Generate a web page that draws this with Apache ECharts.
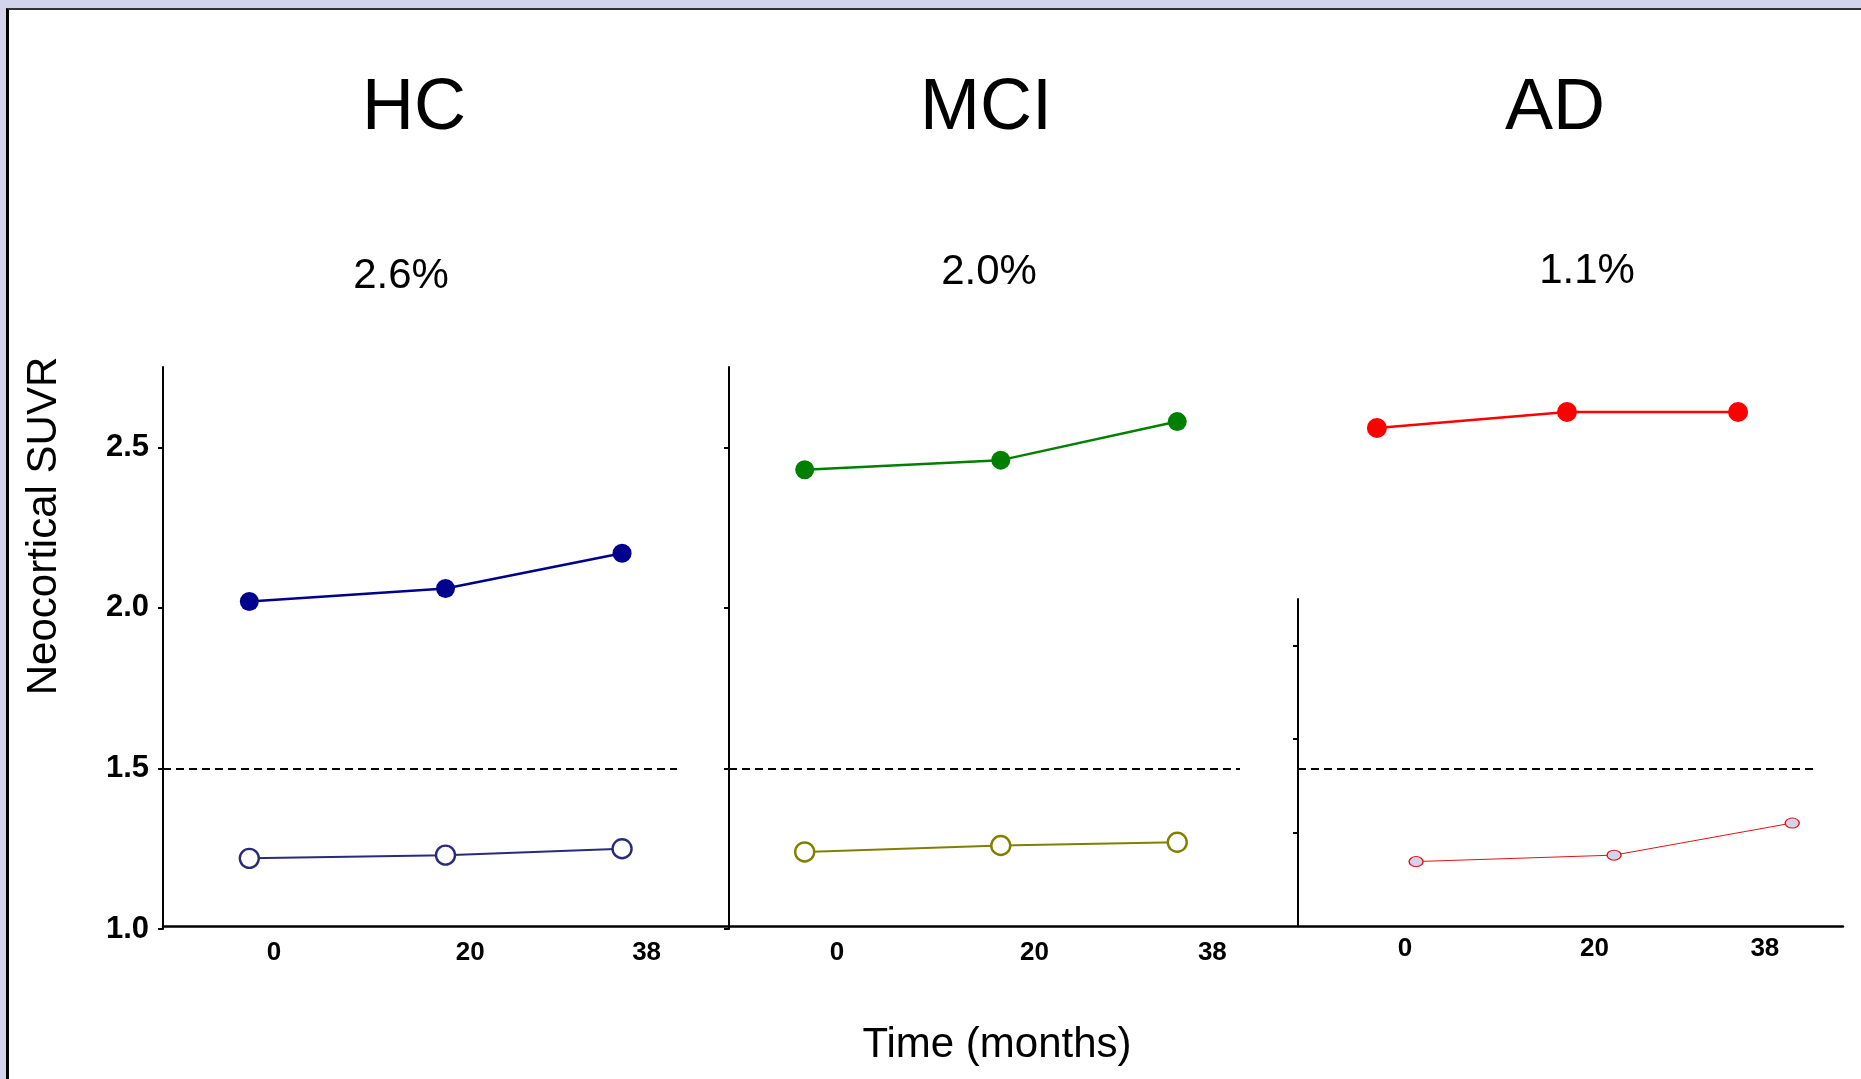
<!DOCTYPE html>
<html>
<head>
<meta charset="utf-8">
<title>Neocortical SUVR</title>
<script src="https://cdn.jsdelivr.net/npm/echarts@6/dist/echarts.min.js"></script>
<style>
  html, body { margin: 0; padding: 0; background: #d3d3eb; }
  #frame {
    position: absolute; left: 6px; top: 8px; right: -10px; bottom: -10px;
    background: #fff; border-left: 3px solid #000; border-top: 2px solid #333;
  }
  #chart { position: absolute; left: 0; top: 0; width: 1861px; height: 1079px; }
</style>
</head>
<body>
<div id="frame"></div>
<div id="chart"></div>
<script>
// data
const groups = ['HC', 'MCI', 'AD']
const changes = ['2.6%', '2.0%', '1.1%']
const months = [0, 20, 38]
const hcHigh = [2.02, 2.06, 2.17]
const hcLow = [1.22, 1.23, 1.25]
const mciHigh = [2.43, 2.46, 2.58]
const mciLow = [1.24, 1.26, 1.27]
const adHigh = [2.56, 2.61, 2.61]
const adLow = [1.21, 1.23, 1.33]
const yTicks = [1.0, 1.5, 2.0, 2.5]
const adShortTicks = [1, 2, 3]
const threshold = 1.5

const font = 'Liberation Sans, Arial, Helvetica, sans-serif'
const pairs = (ys) => months.map((m, i) => [m, ys[i]])

// layout of the three panels
const plotTop = 367
const plotHeight = 562
const panels = [
  { left: 163, width: 514, titleX: 414, pctX: 401, pctY: 276 },
  { left: 729, width: 511, titleX: 986, pctX: 989, pctY: 272 },
  { left: 1298, width: 518, titleX: 1555, pctX: 1587, pctY: 271 }
]

const hiddenAxis = {
  position: 'bottom',
  axisLine: { show: false, onZero: false },
  axisTick: { show: false },
  axisLabel: { show: false },
  splitLine: { show: false }
}

const xLabelStyle = (margin) => ({
  ...hiddenAxis,
  axisLabel: {
    show: true,
    customValues: months,
    color: '#000',
    fontWeight: 'bold',
    fontSize: 26,
    fontFamily: font,
    margin: margin
  }
})

const yAxisBase = {
  type: 'value',
  position: 'left',
  min: 1.0,
  max: 2.75,
  axisLine: { show: true, onZero: false, lineStyle: { color: '#000', width: 2 } },
  axisTick: { show: true, customValues: yTicks, length: 5, lineStyle: { color: '#000', width: 2 } },
  axisLabel: { show: false },
  splitLine: { show: false }
}

const dashLine = {
  silent: true,
  symbol: ['none', 'none'],
  label: { show: false },
  lineStyle: { color: '#000', type: [8, 5], width: 1.8 },
  data: [{ yAxis: threshold }]
}

const filled = (name, xi, yi, ys, color, size, mark) => ({
  name: name,
  type: 'line',
  xAxisIndex: xi,
  yAxisIndex: yi,
  data: pairs(ys),
  symbol: 'circle',
  symbolSize: size,
  itemStyle: { color: color },
  lineStyle: { color: color, width: 2.5 },
  markLine: mark ? dashLine : undefined
})

const open = (name, xi, yi, ys, color, fill, size, lw, bw) => ({
  name: name,
  type: 'line',
  xAxisIndex: xi,
  yAxisIndex: yi,
  data: pairs(ys),
  symbol: 'circle',
  symbolSize: size,
  itemStyle: { color: fill, borderColor: color, borderWidth: bw, opacity: 1 },
  lineStyle: { color: color, width: lw }
})

const texts = []
groups.forEach((g, i) => {
  texts.push({
    type: 'text', x: panels[i].titleX, y: 109,
    style: { text: g, font: '72px ' + font, fill: '#000', textAlign: 'center', textVerticalAlign: 'middle' }
  })
  texts.push({
    type: 'text', x: panels[i].pctX, y: panels[i].pctY,
    style: { text: changes[i], font: '42px ' + font, fill: '#000', textAlign: 'center', textVerticalAlign: 'middle' }
  })
})
texts.push({
  type: 'text', x: 44, y: 526, rotation: Math.PI / 2,
  style: { text: 'Neocortical SUVR', font: '42px ' + font, fill: '#000', textAlign: 'center', textVerticalAlign: 'middle' }
})
texts.push({
  type: 'text', x: 997, y: 1045,
  style: { text: 'Time (months)', font: '42px ' + font, fill: '#000', textAlign: 'center', textVerticalAlign: 'middle' }
})

const option = {
  animation: false,
  backgroundColor: 'transparent',
  graphic: texts,
  grid: [
    { left: panels[0].left, top: plotTop, width: panels[0].width, height: plotHeight, containLabel: false },
    { left: panels[1].left, top: plotTop, width: panels[1].width, height: plotHeight, containLabel: false },
    { left: panels[2].left, top: plotTop, width: panels[2].width, height: plotHeight, containLabel: false },
    // short axis drawn in the AD panel
    { left: panels[2].left, top: 599, width: panels[2].width, height: 327, containLabel: false },
    // shared bottom axis line
    { left: 163, top: plotTop, width: 1680, height: 559, containLabel: false }
  ],
  xAxis: [
    { type: 'value', gridIndex: 0, min: -8.8, max: 43.6, ...hiddenAxis },
    { type: 'value', gridIndex: 0, min: -11.33, max: 41.1, ...xLabelStyle(11) },
    { type: 'value', gridIndex: 1, min: -7.72, max: 44.4, ...hiddenAxis },
    { type: 'value', gridIndex: 1, min: -10.94, max: 40.8, ...xLabelStyle(11) },
    { type: 'value', gridIndex: 2, min: -8.3, max: 46.2, ...hiddenAxis },
    { type: 'value', gridIndex: 2, min: -11.93, max: 40.4, ...hiddenAxis },
    { type: 'value', gridIndex: 2, min: -11.3, max: 43.4, ...xLabelStyle(7) },
    { type: 'value', gridIndex: 3, min: 0, max: 1, ...hiddenAxis },
    {
      type: 'value', gridIndex: 4, min: 0, max: 1, ...hiddenAxis,
      axisLine: { show: true, onZero: false, lineStyle: { color: '#000', width: 2.5 } }
    }
  ],
  yAxis: [
    {
      ...yAxisBase, gridIndex: 0,
      axisLabel: {
        show: true, customValues: yTicks, margin: 14,
        formatter: (v) => v.toFixed(1),
        color: '#000', fontWeight: 'bold', fontSize: 31, fontFamily: font
      }
    },
    { ...yAxisBase, gridIndex: 1 },
    { type: 'value', gridIndex: 2, min: 1.0, max: 2.75, ...hiddenAxis, position: 'left' },
    {
      ...yAxisBase, gridIndex: 3, min: 0, max: 3.5,
      axisTick: { show: true, customValues: adShortTicks, length: 5, lineStyle: { color: '#000', width: 2 } }
    },
    { type: 'value', gridIndex: 4, min: 0, max: 1, ...hiddenAxis, position: 'left' }
  ],
  series: [
    filled('HC high', 0, 0, hcHigh, '#00008e', 19, true),
    open('HC low', 0, 0, hcLow, '#2a2a7c', '#fff', 19, 2, 2.4),
    filled('MCI high', 2, 1, mciHigh, '#008000', 19, true),
    open('MCI low', 2, 1, mciLow, '#808000', '#fff', 19, 2, 2.4),
    filled('AD high', 4, 2, adHigh, '#ff0000', 20, true),
    open('AD low', 5, 2, adLow, '#e81010', '#d3d3eb', [14, 10], 1, 1.2)
  ]
}

const chart = echarts.init(document.getElementById('chart'))
chart.setOption(option)
</script>
</body>
</html>
